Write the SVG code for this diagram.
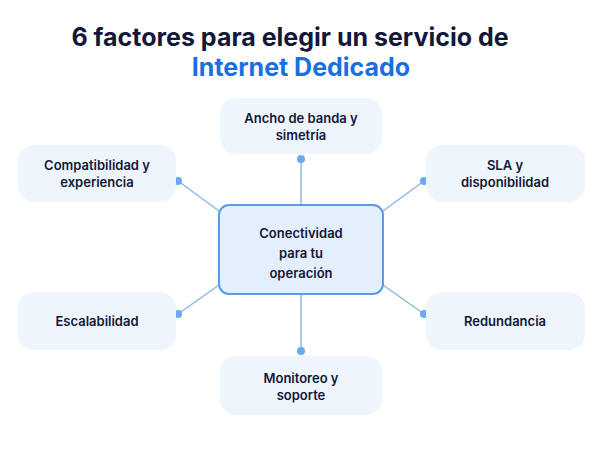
<svg xmlns="http://www.w3.org/2000/svg" width="602" height="451" viewBox="0 0 602 451">
<style>
.n{fill:#eef5fd}
.t{font-family:Inter,"Liberation Sans",sans-serif;font-weight:600;font-size:13px;fill:#12183a;text-anchor:middle}
.c{stroke:#8cb8e6;stroke-width:1.5;fill:none}
.d{fill:#6aaaf0}
</style>
<rect width="602" height="451" fill="#fff"/>
<text x="290" y="46" font-family="Inter,'Liberation Sans',sans-serif" font-weight="700" font-size="25" fill="#12183a" text-anchor="middle">6 factores para elegir un servicio de</text>
<text x="301" y="76" font-family="Inter,'Liberation Sans',sans-serif" font-weight="700" font-size="25" fill="#1a6fe0" text-anchor="middle">Internet Dedicado</text>
<g id="connectors">
<line class="c" x1="301" y1="159" x2="301" y2="205"/>
<line class="c" x1="301" y1="294" x2="301" y2="351"/>
<line class="c" x1="178" y1="181" x2="219" y2="211"/>
<line class="c" x1="424" y1="181" x2="383" y2="211"/>
<line class="c" x1="178" y1="314" x2="219" y2="285"/>
<line class="c" x1="424" y1="314" x2="383" y2="285"/>
<circle class="d" cx="301" cy="159" r="4"/><circle class="d" cx="301" cy="351" r="4"/>
<circle class="d" cx="178" cy="181" r="4"/><circle class="d" cx="424" cy="181" r="4"/>
<circle class="d" cx="178" cy="314" r="4"/><circle class="d" cx="424" cy="314" r="4"/>
</g>
<g id="center"><rect x="219" y="205" width="164" height="89" rx="10" fill="#e3effc" stroke="#5a9ae6" stroke-width="2"/>
<text class="t" font-size="16" x="301" y="238">Conectividad</text><text class="t" font-size="16" x="301" y="258">para tu</text><text class="t" font-size="16" x="301" y="278">operación</text></g>
<g id="n1"><rect class="n" x="220" y="98" width="162" height="56" rx="16"/><text class="t" x="301" y="123">Ancho de banda y</text><text class="t" x="301" y="140">simetría</text></g>
<g id="n2"><rect class="n" x="18" y="145" width="158" height="57" rx="16"/><text class="t" x="97" y="170">Compatibilidad y</text><text class="t" x="97" y="187">experiencia</text></g>
<g id="n3"><rect class="n" x="426" y="145" width="159" height="57" rx="16"/><text class="t" x="505" y="170">SLA y</text><text class="t" x="505" y="187">disponibilidad</text></g>
<g id="n4"><rect class="n" x="18" y="292" width="158" height="58" rx="16"/><text class="t" x="97" y="326">Escalabilidad</text></g>
<g id="n5"><rect class="n" x="426" y="292" width="159" height="58" rx="16"/><text class="t" x="505" y="326">Redundancia</text></g>
<g id="n6"><rect class="n" x="220" y="356" width="162" height="59" rx="16"/><text class="t" x="301" y="383">Monitoreo y</text><text class="t" x="301" y="400">soporte</text></g>
</svg>
